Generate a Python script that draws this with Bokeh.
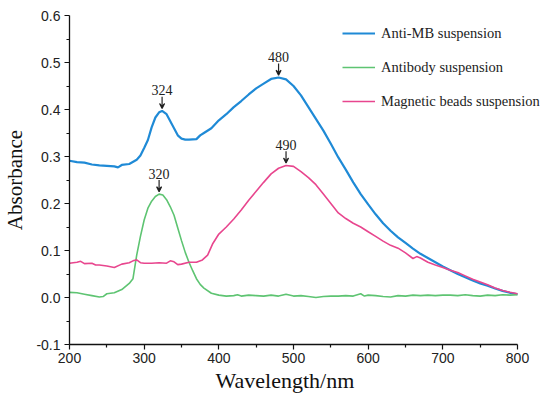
from bokeh.plotting import figure
from bokeh.models import (Legend, LegendItem, Range1d, Arrow, VeeHead, Label, Title,
                          FixedTicker)
from bokeh.embed import file_html
from bokeh.resources import INLINE

# ---------------- data ----------------
wl_blue = [200, 210, 220, 230, 240, 250, 260, 265, 270, 280, 290, 295, 300, 305, 310, 315, 320, 324,
           330, 335, 340, 345, 350, 355, 360, 370, 375, 380, 390, 400, 410, 420, 430, 440, 450, 460,
           470, 480, 490, 500, 510, 520, 530, 540, 550, 560, 570, 580, 590, 600, 610, 620, 630, 640,
           650, 660, 670, 680, 690, 700, 710, 720, 730, 740, 750, 760, 770, 780, 790, 800]
abs_blue = [0.291, 0.288, 0.287, 0.283, 0.281, 0.280, 0.279, 0.277, 0.282, 0.284, 0.293, 0.302, 0.318,
            0.335, 0.362, 0.383, 0.394, 0.397, 0.390, 0.375, 0.360, 0.345, 0.338, 0.336, 0.336, 0.337,
            0.345, 0.350, 0.360, 0.377, 0.390, 0.405, 0.418, 0.432, 0.445, 0.455, 0.465, 0.468, 0.464,
            0.450, 0.430, 0.405, 0.380, 0.355, 0.327, 0.298, 0.272, 0.245, 0.220, 0.198, 0.177, 0.158,
            0.142, 0.128, 0.116, 0.104, 0.093, 0.084, 0.075, 0.066, 0.058, 0.050, 0.043, 0.036, 0.030,
            0.025, 0.019, 0.014, 0.010, 0.007]

wl_green = [200, 210, 220, 230, 240, 245, 250, 260, 270, 280, 285, 290, 295, 300, 305, 310, 315, 320,
            325, 330, 335, 340, 345, 350, 355, 360, 365, 370, 375, 380, 390, 400, 410, 420, 425, 430,
            440, 450, 460, 470, 480, 490, 500, 510, 520, 530, 540, 550, 560, 570, 580, 590, 595, 600,
            610, 620, 630, 640, 650, 660, 670, 680, 690, 700, 710, 720, 730, 740, 750, 760, 770, 780,
            790, 800]
abs_green = [0.011, 0.010, 0.007, 0.004, 0.001, 0.002, 0.008, 0.010, 0.017, 0.030, 0.040, 0.090, 0.130,
             0.165, 0.190, 0.205, 0.215, 0.220, 0.218, 0.208, 0.193, 0.175, 0.148, 0.121, 0.096, 0.075,
             0.057, 0.040, 0.028, 0.020, 0.009, 0.005, 0.003, 0.004, 0.006, 0.003, 0.005, 0.004, 0.003,
             0.005, 0.003, 0.007, 0.003, 0.004, 0.002, 0.000, 0.002, 0.003, 0.003, 0.004, 0.003, 0.008,
             0.003, 0.005, 0.004, 0.002, 0.001, 0.004, 0.003, 0.005, 0.004, 0.005, 0.004, 0.005, 0.005,
             0.004, 0.006, 0.004, 0.003, 0.005, 0.004, 0.006, 0.005, 0.006]

wl_pink = [200, 210, 215, 220, 230, 235, 240, 250, 260, 270, 280, 285, 290, 295, 300, 310, 320, 330,
           335, 340, 345, 350, 360, 370, 378, 385, 392, 400, 410, 420, 430, 440, 450, 460, 470, 480,
           490, 500, 510, 520, 530, 540, 550, 560, 570, 580, 590, 600, 610, 620, 630, 640, 650, 660,
           665, 670, 680, 690, 700, 710, 720, 730, 740, 750, 760, 770, 780, 790, 800]
abs_pink = [0.073, 0.075, 0.077, 0.072, 0.073, 0.069, 0.069, 0.067, 0.064, 0.071, 0.074, 0.078, 0.080,
            0.074, 0.073, 0.073, 0.074, 0.073, 0.078, 0.076, 0.070, 0.071, 0.075, 0.075, 0.080, 0.090,
            0.115, 0.135, 0.150, 0.167, 0.186, 0.207, 0.226, 0.245, 0.263, 0.275, 0.281, 0.279, 0.268,
            0.255, 0.240, 0.220, 0.200, 0.180, 0.168, 0.158, 0.150, 0.140, 0.130, 0.120, 0.111, 0.105,
            0.095, 0.083, 0.087, 0.084, 0.075, 0.069, 0.064, 0.058, 0.053, 0.046, 0.039, 0.033, 0.027,
            0.020, 0.015, 0.011, 0.008]

series_names = ["Anti-MB suspension", "Antibody suspension", "Magnetic beads suspension"]
series_colors = ["#1f8ad6", "#5ec472", "#e8468e"]

peak_wl = [324, 480, 320, 490]
peak_abs = [0.397, 0.468, 0.220, 0.281]
peak_labels = ["324", "480", "320", "490"]

x_ticks = [200, 300, 400, 500, 600, 700, 800]
x_minor = [250, 350, 450, 550, 650, 750]
y_ticks = [-0.1, 0.0, 0.1, 0.2, 0.3, 0.4, 0.5, 0.6]
y_minor = [-0.05, 0.05, 0.15, 0.25, 0.35, 0.45, 0.55]

# ---------------- figure ----------------
# frame runs to the right edge so the legend text is not clipped; the axis stops at 800
x_end_view = 800 + 27 / 0.7469
p = figure(width=544, height=396, output_backend="svg", toolbar_location=None,
           x_range=Range1d(200, x_end_view), y_range=Range1d(-0.1, 0.6),
           min_border_left=69, min_border_right=0, min_border_top=15, min_border_bottom=52)
p.outline_line_color = None
p.grid.visible = False
p.background_fill_color = "white"
p.border_fill_color = "white"

r_blue = p.line(wl_blue, abs_blue, line_color=series_colors[0], line_width=2.2)
r_green = p.line(wl_green, abs_green, line_color=series_colors[1], line_width=1.6)
r_pink = p.line(wl_pink, abs_pink, line_color=series_colors[2], line_width=1.6)

# axes
for ax in (p.xaxis[0], p.yaxis[0]):
    ax.axis_line_color = "#111111"
    ax.axis_line_width = 1.3
    ax.major_tick_line_color = "#111111"
    ax.minor_tick_line_color = "#111111"
    ax.major_tick_line_width = 1.2
    ax.minor_tick_line_width = 1.2
    ax.major_tick_out = 5
    ax.major_tick_in = 0
    ax.minor_tick_out = 3
    ax.minor_tick_in = 0
    ax.major_label_text_font = "Liberation Sans"
    ax.major_label_text_font_size = "14px"
    ax.major_label_text_color = "#222222"
    ax.axis_label_text_font = "Liberation Serif"
    ax.axis_label_text_font_style = "normal"
    ax.axis_label_text_color = "#111111"

p.xaxis.bounds = (200, 800)
p.xaxis.ticker = FixedTicker(ticks=x_ticks, minor_ticks=x_minor)
p.yaxis.ticker = FixedTicker(ticks=y_ticks, minor_ticks=y_minor)
p.yaxis.major_label_overrides = {v: f"{v:.1f}" for v in y_ticks}
p.yaxis.axis_label = "Absorbance"
p.yaxis.axis_label_text_font_size = "21px"
p.yaxis.axis_label_standoff = 6
p.xaxis.major_label_standoff = 3
p.yaxis.major_label_standoff = 4

# x-axis title, centred under the 200-800 span (not the extended frame)
p.add_layout(Title(text="Wavelength/nm", align="left", offset=146, standoff=0,
                   text_font="Liberation Serif", text_font_size="22px",
                   text_font_style="normal", text_color="#111111"), "below")

# peak annotations
for wl, a, lab in zip(peak_wl, peak_abs, peak_labels):
    p.add_layout(Arrow(end=VeeHead(size=5, line_color="#222222", line_width=1.2),
                       x_start=wl, y_start=a + 0.030, x_end=wl, y_end=a + 0.005,
                       line_color="#222222", line_width=1.2))
    p.add_layout(Label(x=wl, y=a + 0.033, text=lab, text_align="center",
                       text_baseline="bottom", text_font="Liberation Serif",
                       text_font_size="14px", text_color="#222222"))

# legend
legend = Legend(items=[LegendItem(label=series_names[0], renderers=[r_blue]),
                       LegendItem(label=series_names[1], renderers=[r_green]),
                       LegendItem(label=series_names[2], renderers=[r_pink])],
                location=(273, 233), padding=0, margin=0, spacing=14,
                glyph_width=33, glyph_height=20, label_height=20, label_standoff=6,
                label_text_font="Liberation Serif", label_text_font_size="14.5px",
                label_text_color="#222222", border_line_color=None,
                background_fill_alpha=0)
p.add_layout(legend, "center")

open("out.html", "w").write(file_html(p, INLINE))
